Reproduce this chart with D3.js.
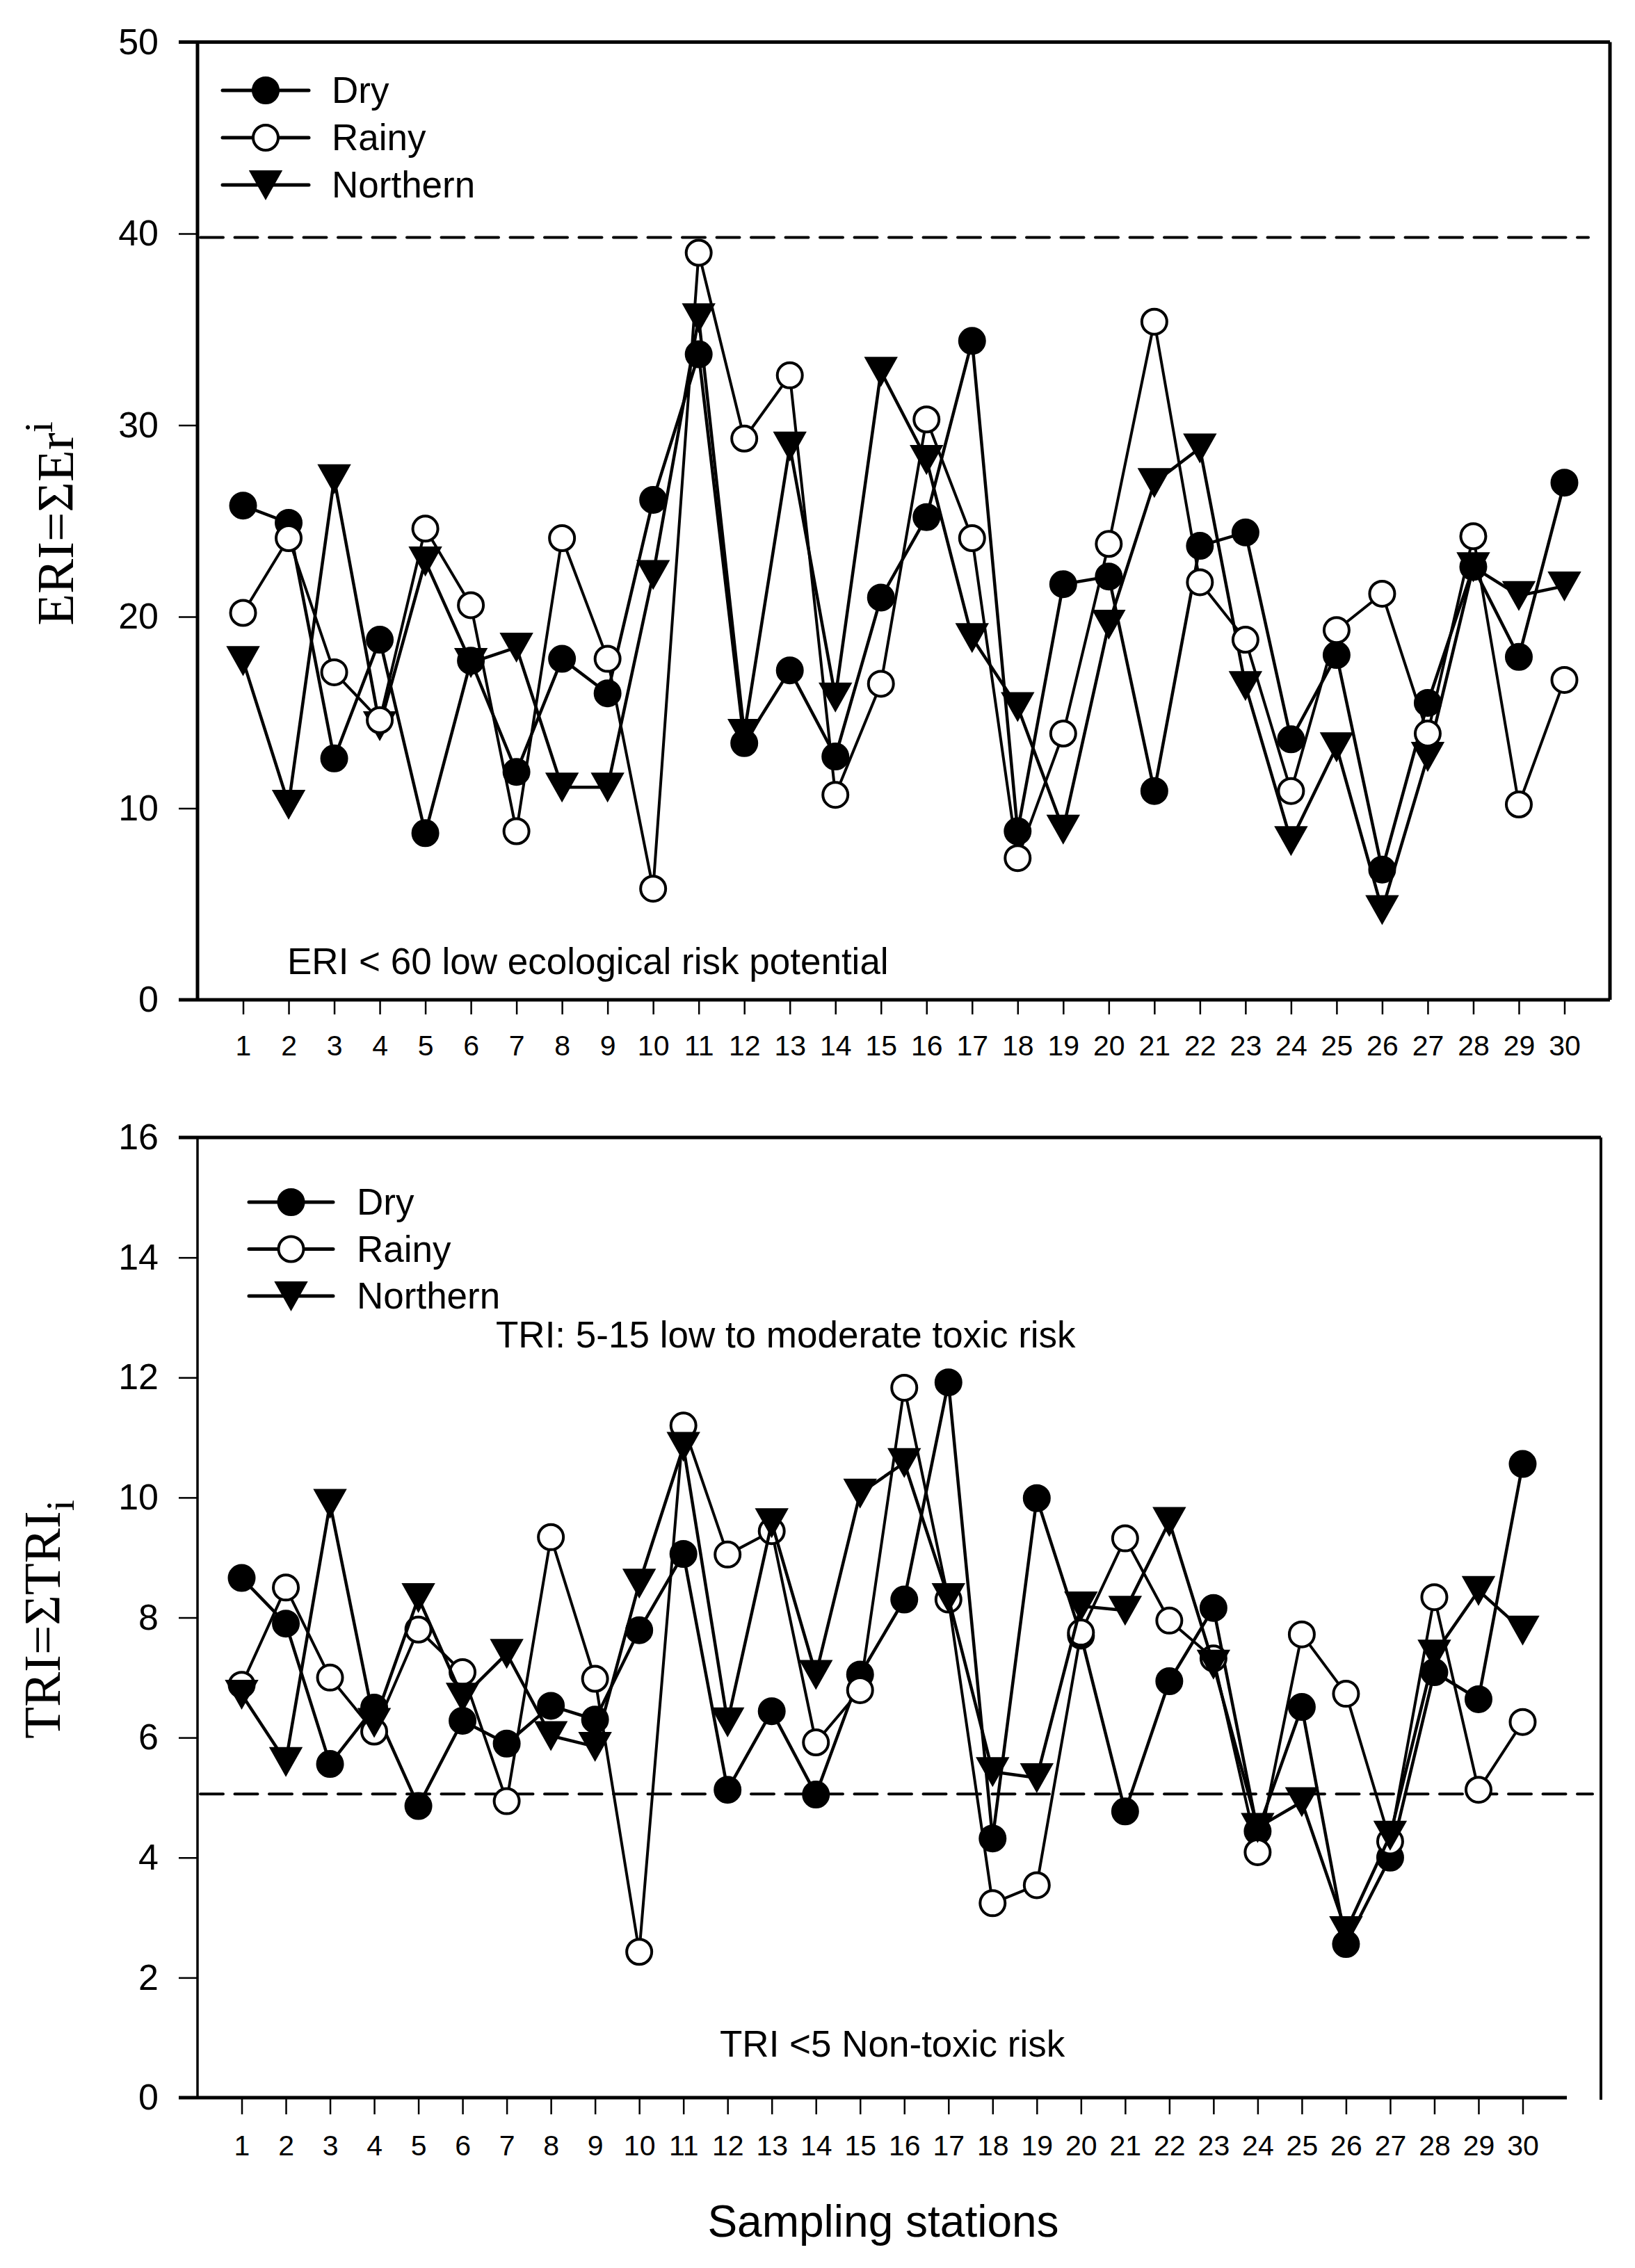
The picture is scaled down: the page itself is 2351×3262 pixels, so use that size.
<!DOCTYPE html>
<html>
<head>
<meta charset="utf-8">
<script src="https://d3js.org/d3.v7.min.js"></script>
<style>
  html, body { margin: 0; padding: 0; background: #fff; }
  svg { display: block; }
</style>
</head>
<body>
<svg id="chart" width="2351" height="3262"></svg>
<script>
// ---------------- DATA ----------------
const stations = d3.range(1, 31);
const seriesNames = ["Dry", "Rainy", "Northern"];

const eriDry = [25.8, 24.9, 12.6, 18.8, 8.7, 17.7, 11.9, 17.8, 16.0, 26.1, 33.7, 13.4, 17.2, 12.7, 21.0,
                25.2, 34.4, 8.8, 21.7, 22.1, 10.9, 23.7, 24.4, 13.6, 18.0, 6.8, 15.5, 22.6, 17.9, 27.0];
const eriRainy = [20.2, 24.1, 17.1, 14.6, 24.6, 20.6, 8.8, 24.1, 17.8, 5.8, 39.0, 29.3, 32.6, 10.7, 16.5,
                  30.3, 24.1, 7.4, 13.9, 23.8, 35.4, 21.8, 18.8, 10.9, 19.3, 21.2, 13.9, 24.2, 10.2, 16.7];
const eriNorthern = [17.7, 10.2, 27.2, 14.3, 22.9, 17.6, 18.4, 11.1, 11.1, 22.2, 35.6, 13.9, 28.9, 15.8, 32.8,
                     28.2, 18.9, 15.3, 8.9, 19.6, 27.0, 28.8, 16.4, 8.3, 13.2, 4.7, 12.7, 22.6, 21.1, 21.6];

const triDry = [8.66, 7.9, 5.56, 6.5, 4.86, 6.28, 5.9, 6.53, 6.3, 7.79, 9.06, 5.13, 6.44, 5.05, 7.05,
                8.3, 11.92, 4.32, 9.99, 7.7, 4.77, 6.94, 8.16, 4.44, 6.51, 2.56, 4.0, 7.09, 6.64, 10.56];
const triRainy = [6.88, 8.5, 7.0, 6.1, 7.8, 7.09, 4.94, 9.34, 6.98, 2.43, 11.2, 9.05, 9.44, 5.92, 6.79,
                  11.83, 8.3, 3.24, 3.54, 7.75, 9.32, 7.95, 7.32, 4.09, 7.72, 6.73, 4.27, 8.34, 5.13, 6.26];
const triNorthern = [6.72, 5.6, 9.9, 6.25, 8.33, 6.67, 7.4, 6.03, 5.85, 8.57, 10.85, 6.26, 9.58, 7.05, 10.07,
                     10.58, 8.33, 5.43, 5.33, 8.19, 8.12, 9.6, 7.22, 4.5, 4.93, 2.78, 4.37, 7.39, 8.45, 7.79];

const eriTicks = [0, 10, 20, 30, 40, 50];
const triTicks = [0, 2, 4, 6, 8, 10, 12, 14, 16];
const eriThreshold = 39.8;
const triThreshold = 5.06;

// ---------------- DRAWING ----------------
const svg = d3.select("#chart");
svg.append("rect").attr("width", 2351).attr("height", 3262).attr("fill", "#fff");

const SANS = "'Liberation Sans', Arial, Helvetica, sans-serif";
const SERIF = "'Liberation Serif', 'Times New Roman', serif";

const styles = {
  Dry:      { shape: "circle",   fill: "#000", lw: 4.5 },
  Rainy:    { shape: "circle",   fill: "#fff", lw: 4 },
  Northern: { shape: "triangle", fill: "#000", lw: 4.5 }
};

function drawMarker(g, shape, fill, cx, cy) {
  if (shape === "circle") {
    g.append("circle").attr("cx", cx).attr("cy", cy).attr("r", 18)
      .attr("fill", fill).attr("stroke", "#000").attr("stroke-width", 4);
  } else {
    g.append("path")
      .attr("d", `M${cx - 22.5},${cy - 20} L${cx + 22.5},${cy - 20} L${cx},${cy + 20} Z`)
      .attr("fill", fill).attr("stroke", "#000").attr("stroke-width", 2);
  }
}

function panel(cfg) {
  const g = svg.append("g");
  const x = d3.scaleLinear().domain([0, 31]).range([cfg.left, cfg.axisRight]);
  const y = d3.scaleLinear().domain([0, cfg.ymax]).range([cfg.bottom, cfg.top]);

  // threshold dashed line
  g.append("line")
    .attr("x1", cfg.left + 4).attr("x2", cfg.dashEnd)
    .attr("y1", y(cfg.threshold)).attr("y2", y(cfg.threshold))
    .attr("stroke", "#000").attr("stroke-width", 4)
    .attr("stroke-linecap", "round")
    .attr("stroke-dasharray", "33,16.5");

  // y axis
  const ya = g.append("g").attr("transform", `translate(${cfg.left},0)`)
    .call(d3.axisLeft(y).tickValues(cfg.yTicks).tickSize(27).tickPadding(29).tickSizeOuter(0));
  ya.select(".domain").remove();
  ya.selectAll(".tick line").attr("stroke-width", 2.5);
  ya.selectAll(".tick text").attr("font-family", SANS).attr("font-size", 52).attr("fill", "#000");

  // x axis
  const xa = g.append("g").attr("transform", `translate(0,${cfg.bottom})`)
    .call(d3.axisBottom(x).tickValues(stations).tickSize(cfg.xTickLen).tickPadding(30).tickSizeOuter(0));
  xa.select(".domain").remove();
  xa.selectAll(".tick line").attr("stroke-width", 2.5);
  xa.selectAll(".tick text").attr("font-family", SANS).attr("font-size", 41).attr("fill", "#000");

  // frame lines
  g.append("line").attr("x1", cfg.left - 27).attr("x2", cfg.frameRight)
    .attr("y1", cfg.top).attr("y2", cfg.top).attr("stroke", "#000").attr("stroke-width", 5);
  g.append("line").attr("x1", cfg.left).attr("x2", cfg.left)
    .attr("y1", cfg.top).attr("y2", cfg.bottom).attr("stroke", "#000").attr("stroke-width", cfg.leftW);
  g.append("line").attr("x1", cfg.frameRight).attr("x2", cfg.frameRight)
    .attr("y1", cfg.top).attr("y2", cfg.bottom + cfg.rightExtra).attr("stroke", "#000").attr("stroke-width", cfg.rightW);
  g.append("line").attr("x1", cfg.left - 27).attr("x2", cfg.axisRight)
    .attr("y1", cfg.bottom).attr("y2", cfg.bottom).attr("stroke", "#000").attr("stroke-width", 5);

  // series
  const line = d3.line().x((d, i) => x(stations[i])).y(d => y(d));
  cfg.series.forEach(([name, vals]) => {
    const st = styles[name];
    const sg = g.append("g");
    sg.append("path").attr("d", line(vals)).attr("fill", "none")
      .attr("stroke", "#000").attr("stroke-width", st.lw).attr("stroke-linejoin", "round");
    vals.forEach((v, i) => drawMarker(sg, st.shape, st.fill, x(stations[i]), y(v)));
  });

  // legend
  seriesNames.forEach((name, i) => {
    const st = styles[name];
    const ly = cfg.legY + i * cfg.legStep;
    const lg = g.append("g");
    lg.append("line").attr("x1", cfg.legX1).attr("x2", cfg.legX2).attr("y1", ly).attr("y2", ly)
      .attr("stroke", "#000").attr("stroke-width", 5).attr("stroke-linecap", "round");
    drawMarker(lg, st.shape, st.fill, (cfg.legX1 + cfg.legX2) / 2, ly);
    lg.append("text").attr("x", cfg.legTextX).attr("y", ly + 18)
      .attr("font-family", SANS).attr("font-size", 53).attr("fill", "#000").text(name);
  });

  // annotations
  cfg.notes.forEach(n => {
    g.append("text").attr("x", n.x).attr("y", n.y).attr("font-family", SANS)
      .attr("font-size", 53).attr("fill", "#000").text(n.t);
  });

  return g;
}

panel({
  left: 284, axisRight: 2315, frameRight: 2315, top: 60.5, bottom: 1438, ymax: 50,
  yTicks: eriTicks, threshold: eriThreshold, dashEnd: 2284, xTickLen: 21,
  leftW: 5, rightW: 5, rightExtra: 0,
  series: [["Northern", eriNorthern], ["Dry", eriDry], ["Rainy", eriRainy]],
  legY: 130, legStep: 68, legX1: 320, legX2: 444, legTextX: 477,
  notes: [{ x: 413, y: 1401, t: "ERI < 60 low ecological risk potential" }]
});

panel({
  left: 284, axisRight: 2253, frameRight: 2302, top: 1636, bottom: 3017, ymax: 16,
  yTicks: triTicks, threshold: triThreshold, dashEnd: 2290, xTickLen: 24,
  leftW: 3.5, rightW: 4, rightExtra: 3,
  series: [["Dry", triDry], ["Rainy", triRainy], ["Northern", triNorthern]],
  legY: 1729, legStep: 67.5, legX1: 358, legX2: 479, legTextX: 513,
  notes: [
    { x: 713, y: 1938, t: "TRI: 5-15 low to moderate toxic risk" },
    { x: 1035, y: 2958, t: "TRI <5 Non-toxic risk" }
  ]
});

// y axis titles
const t1 = svg.append("text").attr("transform", "translate(105,753) rotate(-90)")
  .attr("text-anchor", "middle").attr("font-family", SERIF).attr("font-size", 75).attr("fill", "#000");
t1.append("tspan").text("ERI=ΣEr");
t1.append("tspan").attr("font-size", 58).attr("dy", -30).text("i");

const t2 = svg.append("text").attr("transform", "translate(86,2329) rotate(-90)")
  .attr("text-anchor", "middle").attr("font-family", SERIF).attr("font-size", 75).attr("fill", "#000");
t2.append("tspan").text("TRI=ΣTRI");
t2.append("tspan").attr("font-size", 58).attr("dy", 20).text("i");

// x axis title
svg.append("text").attr("x", 1270).attr("y", 3217).attr("text-anchor", "middle")
  .attr("font-family", SANS).attr("font-size", 64).attr("fill", "#000").text("Sampling stations");
</script>
</body>
</html>
